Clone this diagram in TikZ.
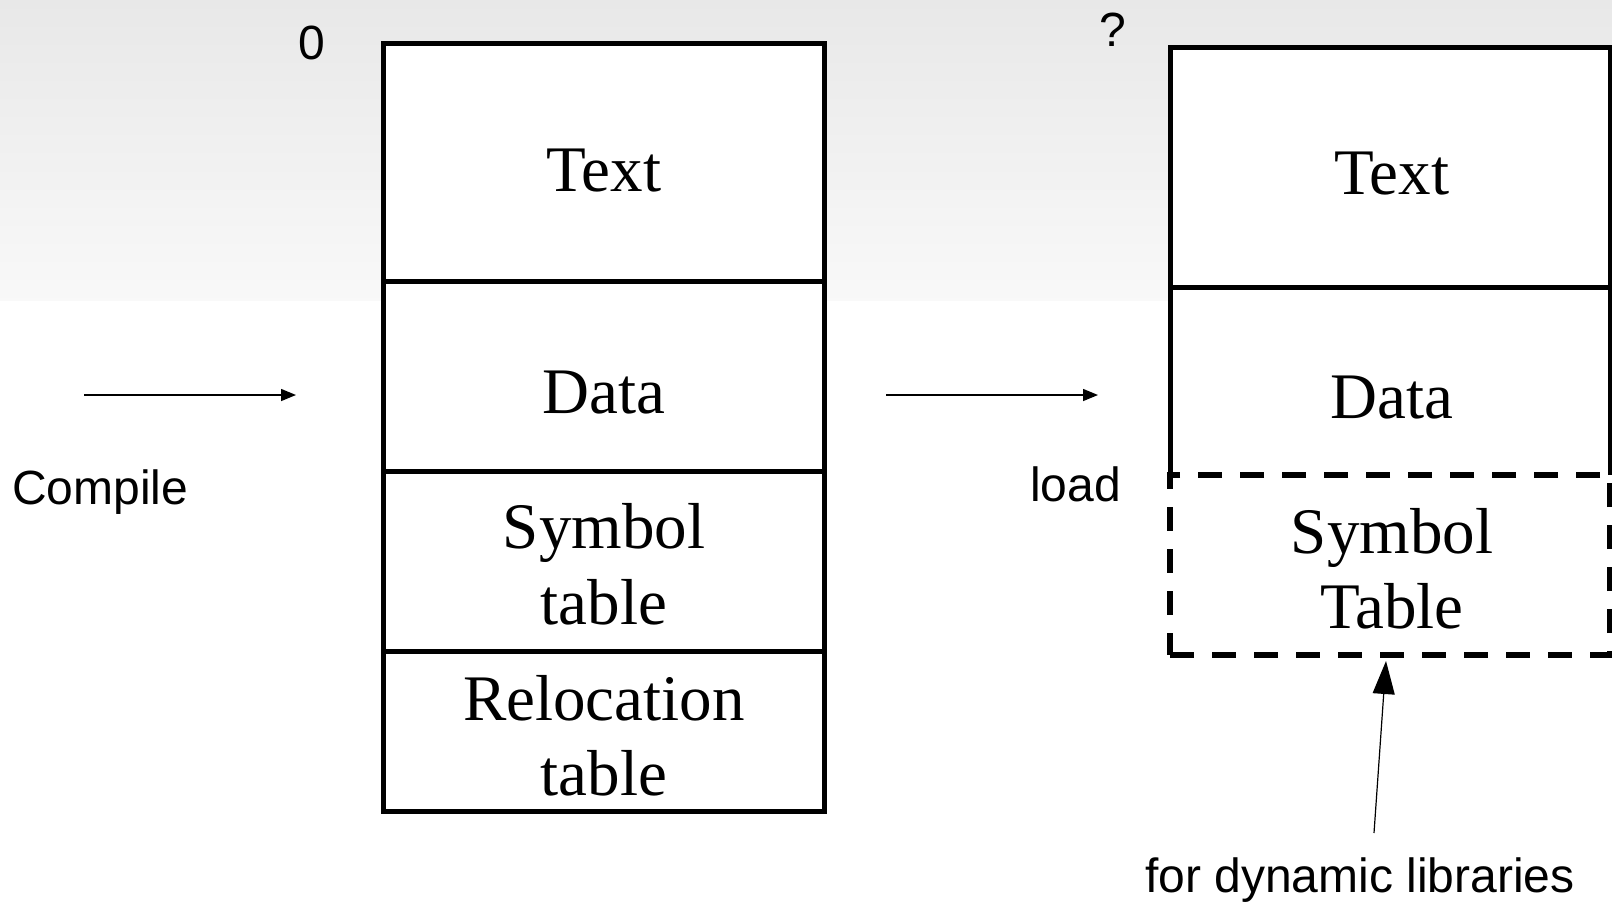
\documentclass[tikz,border=0pt]{standalone}
\usepackage{fontspec}
\setmainfont{Liberation Serif}
\newfontfamily\labelfont{Liberation Sans}
\usetikzlibrary{arrows.meta}
\tikzset{
  seg/.style={draw=black, line width=5pt, fill=white, inner sep=0pt, outer sep=0pt, minimum width=441pt},
  dynseg/.style={seg, draw=none},
  segtxt/.style={anchor=base, inner sep=0pt, font=\fontsize{65}{76}\selectfont},
  lbl/.style={anchor=base, inner sep=0pt, font=\labelfont\fontsize{48}{56}\selectfont},
  flow/.style={line width=1.5pt, -{Triangle[length=15pt,width=12pt]}},
}
\begin{document}
\begin{tikzpicture}[x=1pt,y=-1pt]
\useasboundingbox (0,0) rectangle (1612,903);
\shade[top color=gray!18, bottom color=gray!5] (0,0) rectangle (1612,300);
% object file
\node[seg, minimum height=238.7pt] (ltext) at (604,162.35) {};
\node[seg, minimum height=189.3pt] (ldata) at (604,376.35) {};
\node[seg, minimum height=180pt] (lsym) at (604,561) {};
\node[seg, minimum height=160pt] (lrel) at (604,731) {};
\node[segtxt] (ltextlbl) at (604,191) {Text};
\node[segtxt] (ldatalbl) at (604,413) {Data};
\node[segtxt] (lsymlbl) at (604,548) {Symbol};
\node[segtxt] (lsymlbl2) at (604,624) {table};
\node[segtxt] (lrellbl) at (604,720) {Relocation};
\node[segtxt] (lrellbl2) at (604,795) {table};
% loaded image
\node[dynseg, minimum width=440pt, minimum height=188pt] (rdata) at (1390,381) {};
\node[seg, minimum width=440pt, minimum height=240pt] (rtext) at (1390,167) {};
\draw[line width=5pt] (rdata.south west) -- (rdata.north west);
\draw[line width=5pt] (rdata.south east) -- (rdata.north east);
\node[seg, minimum width=440pt, minimum height=180pt, line width=6pt,
      dash pattern=on 24pt off 18pt] (rsym) at (1390,565) {};
\node[segtxt] (rtextlbl) at (1392,194) {Text};
\node[segtxt] (rdatalbl) at (1392,418) {Data};
\node[segtxt] (rsymlbl) at (1392,553) {Symbol};
\node[segtxt] (rsymlbl2) at (1392,628) {Table};
% labels
\node[lbl] (zero) at (311.5,59.6) {0};
\node[lbl] (unknown) at (1113,46) {?};
\node[lbl, anchor=base west] (compile) at (12,504) {Compile};
\node[lbl, anchor=base west] (load) at (1030,501) {load};
\node[lbl, anchor=base west] (dynlbl) at (1145,892) {for dynamic libraries};
% arrows
\coordinate (cin) at (84,395);
\coordinate (cout) at (296,395);
\coordinate (lin) at (886,395);
\coordinate (lout) at (1098,395);
\coordinate (dyntail) at (1374,833);
\draw[flow] (cin) -- (cout);
\draw[flow] (lin) -- (lout);
\draw[line width=1.2pt, -{Triangle[length=33pt,width=22pt]}] (dyntail) -- ([xshift=-4pt,yshift=-6pt]rsym.south);
\end{tikzpicture}
\end{document}
